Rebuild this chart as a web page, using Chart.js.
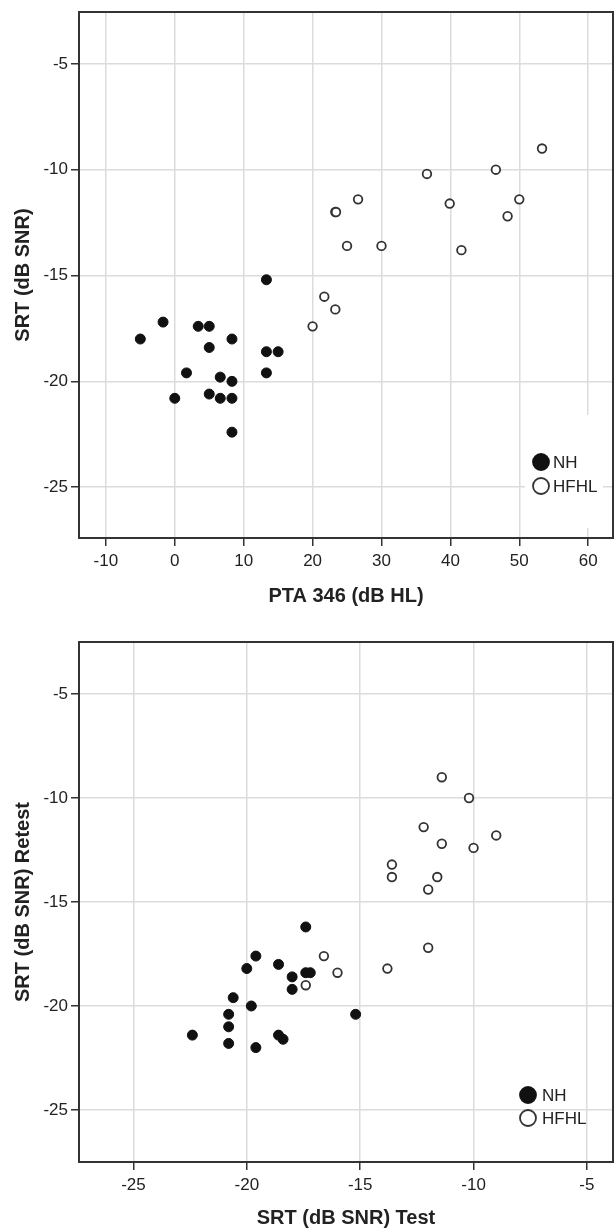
<!DOCTYPE html>
<html>
<head>
<meta charset="utf-8">
<script src="https://cdn.jsdelivr.net/npm/chart.js@4.4.1/dist/chart.umd.min.js"></script>
<style>
  html, body { margin: 0; padding: 0; background: #fff; }
  .panel { width: 614px; height: 614px; }
  canvas { display: block; }
</style>
</head>
<body>
<div class="panel"><canvas id="ptaChart" width="614" height="614"></canvas></div>
<div class="panel"><canvas id="retestChart" width="614" height="614"></canvas></div>
<script>
// Panel 1: SRT vs PTA 346
const nhPta = [-5, -1.7, 3.4, 5.0, 8.3, 5.0, 13.3, 15.0, 1.7, 13.3, 6.6, 8.3, 0, 5.0, 6.6, 8.3, 8.3, 13.3];
const nhSrt = [-18.0, -17.2, -17.4, -17.4, -18.0, -18.4, -18.6, -18.6, -19.6, -19.6, -19.8, -20.0, -20.8, -20.6, -20.8, -20.8, -22.4, -15.2];
const hfhlPta = [53.3, 46.6, 36.6, 50.0, 39.9, 48.3, 26.6, 23.3, 23.4, 25.0, 30.0, 41.6, 21.7, 23.3, 20.0];
const hfhlSrt = [-9.0, -10.0, -10.2, -11.4, -11.6, -12.2, -11.4, -12.0, -12.0, -13.6, -13.6, -13.8, -16.0, -16.6, -17.4];

// Panel 2: SRT test vs retest
const nhTest = [-22.4, -20.8, -20.8, -20.8, -20.6, -20.0, -19.6, -19.8, -19.6, -18.6, -18.6, -18.4, -18.0, -18.0, -17.4, -17.4, -17.2, -15.2];
const nhRetest = [-21.4, -20.4, -21.0, -21.8, -19.6, -18.2, -17.6, -20.0, -22.0, -18.0, -21.4, -21.6, -18.6, -19.2, -16.2, -18.4, -18.4, -20.4];
const hfhlTest = [-11.4, -10.2, -12.2, -9.0, -11.4, -10.0, -13.6, -13.6, -11.6, -12.0, -12.0, -16.6, -16.0, -13.8, -17.4];
const hfhlRetest = [-9.0, -10.0, -11.4, -11.8, -12.2, -12.4, -13.2, -13.8, -13.8, -14.4, -17.2, -17.6, -18.4, -18.2, -19.0];

// Tick labels
const ptaTicks = [-10, 0, 10, 20, 30, 40, 50, 60];
const srtTicks = [-25, -20, -15, -10, -5];

const FONT = '"Liberation Sans", Arial, sans-serif';
const INK = '#222';

function toPoints(xs, ys) {
  return xs.map((x, i) => ({ x, y: ys[i] }));
}

function makeDatasets(nhX, nhY, hfX, hfY) {
  return [
    {
      label: 'NH',
      data: toPoints(nhX, nhY),
      backgroundColor: '#111',
      borderColor: '#111',
      borderWidth: 1,
      pointRadius: 5
    },
    {
      label: 'HFHL',
      data: toPoints(hfX, hfY),
      backgroundColor: '#fff',
      borderColor: '#333',
      borderWidth: 1.8,
      pointRadius: 4.3
    }
  ];
}

// dark frame round the plot area (top + right edges)
const framePlugin = {
  id: 'frame',
  afterDraw(chart) {
    const { ctx, chartArea: a } = chart;
    ctx.save();
    ctx.strokeStyle = '#333';
    ctx.lineWidth = 2;
    ctx.strokeRect(a.left, a.top, a.right - a.left, a.bottom - a.top);
    ctx.restore();
  }
};

// SPSS-like legend inside the plot, bottom right
const pointLegend = {
  id: 'pointLegend',
  afterDatasetsDraw(chart, args, opts) {
    const { ctx, chartArea: a } = chart;
    ctx.save();
    if (opts.box) {
      ctx.fillStyle = '#fff';
      ctx.fillRect(a.right - opts.box.left, a.bottom - opts.box.top,
        opts.box.left - opts.box.right, opts.box.top - opts.box.bottom);
    }
    chart.data.datasets.forEach((ds, i) => {
      const cx = a.right - opts.right;
      const cy = a.bottom - opts.bottom + i * opts.rowHeight;
      ctx.beginPath();
      ctx.arc(cx, cy, opts.radius, 0, Math.PI * 2);
      ctx.fillStyle = ds.backgroundColor;
      ctx.fill();
      ctx.lineWidth = 1.8;
      ctx.strokeStyle = ds.borderColor;
      ctx.stroke();
      ctx.fillStyle = INK;
      ctx.font = '17px ' + FONT;
      ctx.textBaseline = 'middle';
      ctx.textAlign = 'left';
      ctx.fillText(ds.label, cx + opts.gap, cy + 1);
    });
    ctx.restore();
  }
};

function axis(cfg) {
  return {
    type: 'linear',
    position: cfg.position,
    min: cfg.min,
    max: cfg.max,
    afterBuildTicks: scale => {
      scale.ticks = cfg.ticks.map(v => ({ value: v }));
    },
    afterFit: scale => {
      if (cfg.position === 'left') scale.width = cfg.size;
      else scale.height = cfg.size;
      // no extra room for end labels: keep the plot edges where they are
      scale.paddingLeft = 0;
      scale.paddingRight = 0;
      scale.paddingTop = 0;
      scale.paddingBottom = 0;
    },
    border: { color: '#333', width: 2 },
    grid: { color: '#dcdcdc', lineWidth: 1.5, tickColor: '#333', tickLength: 8, tickWidth: 1.5 },
    ticks: {
      color: INK,
      font: { family: FONT, size: 17 },
      padding: cfg.position === 'left' ? 3 : 5,
      callback: v => String(v)
    },
    title: {
      display: true,
      text: cfg.title,
      color: INK,
      font: { family: FONT, size: 20, weight: 'bold', lineHeight: 1 },
      padding: cfg.titlePad
    }
  };
}

function buildChart(canvasId, datasets, opts) {
  return new Chart(document.getElementById(canvasId), {
    type: 'scatter',
    data: { datasets },
    options: {
      responsive: false,
      animation: false,
      devicePixelRatio: 1,
      layout: { autoPadding: false, padding: { top: opts.padTop, right: 1, left: 0, bottom: 0 } },
      plugins: {
        legend: { display: false },
        tooltip: { enabled: false },
        pointLegend: opts.legend
      },
      scales: {
        x: axis({
          position: 'bottom', min: opts.xMin, max: opts.xMax, ticks: opts.xTicks,
          size: opts.xAxisHeight, title: opts.xTitle, titlePad: { top: 0, bottom: opts.xTitlePad }
        }),
        y: axis({
          position: 'left', min: opts.yMin, max: opts.yMax, ticks: srtTicks,
          size: 79, title: opts.yTitle, titlePad: { top: 13, bottom: 0 }
        })
      }
    },
    plugins: [pointLegend, framePlugin]
  });
}

document.addEventListener('DOMContentLoaded', () => {
  buildChart('ptaChart', makeDatasets(nhPta, nhSrt, hfhlPta, hfhlSrt), {
    padTop: 12,
    xMin: -13.9, xMax: 63.6, xTicks: ptaTicks,
    yMin: -27.4, yMax: -2.55,
    xAxisHeight: 76, xTitlePad: 8,
    xTitle: 'PTA 346 (dB HL)',
    yTitle: 'SRT (dB SNR)',
    legend: { right: 72, bottom: 76, rowHeight: 24, radius: 8, gap: 12,
      box: { left: 88, right: 10, top: 123, bottom: 10 } }
  });

  buildChart('retestChart', makeDatasets(nhTest, nhRetest, hfhlTest, hfhlRetest), {
    padTop: 28,
    xMin: -27.4, xMax: -3.85, xTicks: srtTicks,
    yMin: -27.5, yMax: -2.5,
    xAxisHeight: 66, xTitlePad: 0,
    xTitle: 'SRT (dB SNR) Test',
    yTitle: 'SRT (dB SNR) Retest',
    legend: { right: 85, bottom: 67, rowHeight: 23, radius: 8, gap: 14, box: null }
  });
});
</script>
</body>
</html>
